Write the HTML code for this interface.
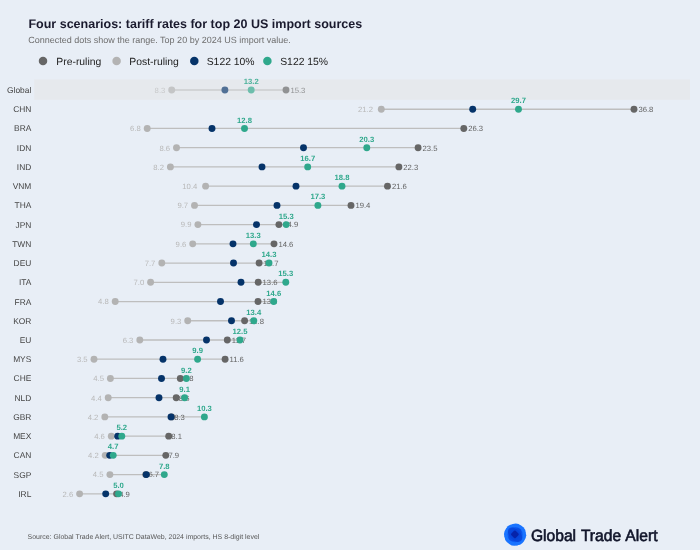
<!DOCTYPE html>
<html><head><meta charset="utf-8"><title>Four scenarios</title>
<style>
html,body{margin:0;padding:0;background:#e8eef6;}
body{width:700px;height:550px;overflow:hidden;}
svg{display:block;text-rendering:geometricPrecision;will-change:transform;font-family:"Liberation Sans",Arial,Helvetica,sans-serif;}
.t{font-weight:bold;font-size:12.52px;fill:#1a1a2e;}
.s{font-size:9px;fill:#6e6e6e;}
.lg{font-size:10.38px;fill:#222;}
.rl{font-size:8.4px;fill:#444;text-anchor:end;}
.vp{font-size:7.7px;fill:#626262;}
.vq{font-size:7.7px;fill:#b8b8b8;text-anchor:end;}
.vs{font-size:7.7px;font-weight:bold;fill:#2fa88c;text-anchor:middle;}
.src{font-size:6.96px;fill:#555;}
.gta{font-size:16.3px;word-spacing:0.8px;fill:#11152a;stroke:#11152a;stroke-width:0.62px;}
</style></head><body>
<svg width="700" height="550" viewBox="0 0 700 550">
<rect width="700" height="550" fill="#e8eef6"/>
<text class="t" x="28.4" y="28.0">Four scenarios: tariff rates for top 20 US import sources</text>
<text class="s" x="28.2" y="42.5">Connected dots show the range. Top 20 by 2024 US import value.</text>

<circle cx="43.0" cy="60.9" r="4.25" fill="#666666"/><text class="lg" x="56.3" y="64.6">Pre-ruling</text>
<circle cx="116.6" cy="60.9" r="4.25" fill="#b3b3b3"/><text class="lg" x="129.3" y="64.6">Post-ruling</text>
<circle cx="194.3" cy="60.9" r="4.25" fill="#053369"/><text class="lg" x="206.7" y="64.6">S122 10%</text>
<circle cx="267.4" cy="60.9" r="4.25" fill="#2fa88c"/><text class="lg" x="280.2" y="64.6">S122 15%</text>
<rect x="34.2" y="79.4" width="655.8" height="20.4" fill="#e6e9ed"/>
<text class="rl" x="31.3" y="93.00">Global</text>
<g opacity="0.66">
<line x1="171.70" x2="286.00" y1="90.00" y2="90.00" stroke="#bebebe" stroke-width="1.3"/>
<circle cx="286.00" cy="90.00" r="3.45" fill="#666666"/>
<circle cx="171.70" cy="90.00" r="3.45" fill="#b3b3b3"/>
<text class="vp" x="290.40" y="92.85">15.3</text>
<text class="vq" x="165.30" y="92.85">8.3</text>
<circle cx="224.90" cy="90.00" r="3.45" fill="#053369"/>
<circle cx="251.20" cy="90.00" r="3.45" fill="#2fa88c"/>
</g>
<text class="vs" x="251.20" y="84.10" opacity="0.85">13.2</text>
<text class="rl" x="31.3" y="112.23">CHN</text>
<g>
<line x1="381.30" x2="634.00" y1="109.23" y2="109.23" stroke="#bebebe" stroke-width="1.3"/>
<circle cx="634.00" cy="109.23" r="3.45" fill="#666666"/>
<circle cx="381.30" cy="109.23" r="3.45" fill="#b3b3b3"/>
<text class="vp" x="638.40" y="112.08">36.8</text>
<text class="vq" x="373.00" y="112.08">21.2</text>
<circle cx="472.70" cy="109.23" r="3.45" fill="#053369"/>
<circle cx="518.50" cy="109.23" r="3.45" fill="#2fa88c"/>
</g>
<text class="vs" x="518.50" y="103.33">29.7</text>
<text class="rl" x="31.3" y="131.46">BRA</text>
<g>
<line x1="147.20" x2="463.80" y1="128.46" y2="128.46" stroke="#bebebe" stroke-width="1.3"/>
<circle cx="463.80" cy="128.46" r="3.45" fill="#666666"/>
<circle cx="147.20" cy="128.46" r="3.45" fill="#b3b3b3"/>
<text class="vp" x="468.20" y="131.31">26.3</text>
<text class="vq" x="140.80" y="131.31">6.8</text>
<circle cx="212.00" cy="128.46" r="3.45" fill="#053369"/>
<circle cx="244.50" cy="128.46" r="3.45" fill="#2fa88c"/>
</g>
<text class="vs" x="244.50" y="122.56">12.8</text>
<text class="rl" x="31.3" y="150.69">IDN</text>
<g>
<line x1="176.50" x2="418.10" y1="147.69" y2="147.69" stroke="#bebebe" stroke-width="1.3"/>
<circle cx="418.10" cy="147.69" r="3.45" fill="#666666"/>
<circle cx="176.50" cy="147.69" r="3.45" fill="#b3b3b3"/>
<text class="vp" x="422.50" y="150.54">23.5</text>
<text class="vq" x="170.10" y="150.54">8.6</text>
<circle cx="303.50" cy="147.69" r="3.45" fill="#053369"/>
<circle cx="366.80" cy="147.69" r="3.45" fill="#2fa88c"/>
</g>
<text class="vs" x="366.80" y="141.79">20.3</text>
<text class="rl" x="31.3" y="169.92">IND</text>
<g>
<line x1="170.40" x2="398.90" y1="166.92" y2="166.92" stroke="#bebebe" stroke-width="1.3"/>
<circle cx="398.90" cy="166.92" r="3.45" fill="#666666"/>
<circle cx="170.40" cy="166.92" r="3.45" fill="#b3b3b3"/>
<text class="vp" x="403.30" y="169.77">22.3</text>
<text class="vq" x="164.00" y="169.77">8.2</text>
<circle cx="262.00" cy="166.92" r="3.45" fill="#053369"/>
<circle cx="307.70" cy="166.92" r="3.45" fill="#2fa88c"/>
</g>
<text class="vs" x="307.70" y="161.02">16.7</text>
<text class="rl" x="31.3" y="189.15">VNM</text>
<g>
<line x1="205.60" x2="387.50" y1="186.15" y2="186.15" stroke="#bebebe" stroke-width="1.3"/>
<circle cx="387.50" cy="186.15" r="3.45" fill="#666666"/>
<circle cx="205.60" cy="186.15" r="3.45" fill="#b3b3b3"/>
<text class="vp" x="391.90" y="189.00">21.6</text>
<text class="vq" x="197.30" y="189.00">10.4</text>
<circle cx="296.00" cy="186.15" r="3.45" fill="#053369"/>
<circle cx="342.00" cy="186.15" r="3.45" fill="#2fa88c"/>
</g>
<text class="vs" x="342.00" y="180.25">18.8</text>
<text class="rl" x="31.3" y="208.38">THA</text>
<g>
<line x1="194.50" x2="351.00" y1="205.38" y2="205.38" stroke="#bebebe" stroke-width="1.3"/>
<circle cx="351.00" cy="205.38" r="3.45" fill="#666666"/>
<circle cx="194.50" cy="205.38" r="3.45" fill="#b3b3b3"/>
<text class="vp" x="355.40" y="208.23">19.4</text>
<text class="vq" x="188.10" y="208.23">9.7</text>
<circle cx="277.00" cy="205.38" r="3.45" fill="#053369"/>
<circle cx="317.90" cy="205.38" r="3.45" fill="#2fa88c"/>
</g>
<text class="vs" x="317.90" y="199.48">17.3</text>
<text class="rl" x="31.3" y="227.61">JPN</text>
<g>
<line x1="197.90" x2="286.20" y1="224.61" y2="224.61" stroke="#bebebe" stroke-width="1.3"/>
<circle cx="278.90" cy="224.61" r="3.45" fill="#666666"/>
<circle cx="197.90" cy="224.61" r="3.45" fill="#b3b3b3"/>
<text class="vp" x="283.30" y="227.46">14.9</text>
<text class="vq" x="191.50" y="227.46">9.9</text>
<circle cx="256.50" cy="224.61" r="3.45" fill="#053369"/>
<circle cx="286.20" cy="224.61" r="3.45" fill="#2fa88c"/>
</g>
<text class="vs" x="286.20" y="218.71">15.3</text>
<text class="rl" x="31.3" y="246.84">TWN</text>
<g>
<line x1="192.70" x2="274.00" y1="243.84" y2="243.84" stroke="#bebebe" stroke-width="1.3"/>
<circle cx="274.00" cy="243.84" r="3.45" fill="#666666"/>
<circle cx="192.70" cy="243.84" r="3.45" fill="#b3b3b3"/>
<text class="vp" x="278.40" y="246.69">14.6</text>
<text class="vq" x="186.30" y="246.69">9.6</text>
<circle cx="233.00" cy="243.84" r="3.45" fill="#053369"/>
<circle cx="253.30" cy="243.84" r="3.45" fill="#2fa88c"/>
</g>
<text class="vs" x="253.30" y="237.94">13.3</text>
<text class="rl" x="31.3" y="266.07">DEU</text>
<g>
<line x1="161.80" x2="269.00" y1="263.07" y2="263.07" stroke="#bebebe" stroke-width="1.3"/>
<circle cx="259.10" cy="263.07" r="3.45" fill="#666666"/>
<circle cx="161.80" cy="263.07" r="3.45" fill="#b3b3b3"/>
<text class="vp" x="263.50" y="265.92">13.7</text>
<text class="vq" x="155.40" y="265.92">7.7</text>
<circle cx="233.50" cy="263.07" r="3.45" fill="#053369"/>
<circle cx="269.00" cy="263.07" r="3.45" fill="#2fa88c"/>
</g>
<text class="vs" x="269.00" y="257.17">14.3</text>
<text class="rl" x="31.3" y="285.30">ITA</text>
<g>
<line x1="150.60" x2="285.80" y1="282.30" y2="282.30" stroke="#bebebe" stroke-width="1.3"/>
<circle cx="258.20" cy="282.30" r="3.45" fill="#666666"/>
<circle cx="150.60" cy="282.30" r="3.45" fill="#b3b3b3"/>
<text class="vp" x="262.60" y="285.15">13.6</text>
<text class="vq" x="144.20" y="285.15">7.0</text>
<circle cx="241.00" cy="282.30" r="3.45" fill="#053369"/>
<circle cx="285.80" cy="282.30" r="3.45" fill="#2fa88c"/>
</g>
<text class="vs" x="285.80" y="276.40">15.3</text>
<text class="rl" x="31.3" y="304.53">FRA</text>
<g>
<line x1="115.20" x2="273.70" y1="301.53" y2="301.53" stroke="#bebebe" stroke-width="1.3"/>
<circle cx="258.00" cy="301.53" r="3.45" fill="#666666"/>
<circle cx="115.20" cy="301.53" r="3.45" fill="#b3b3b3"/>
<text class="vp" x="262.40" y="304.38">13.6</text>
<text class="vq" x="108.80" y="304.38">4.8</text>
<circle cx="220.50" cy="301.53" r="3.45" fill="#053369"/>
<circle cx="273.70" cy="301.53" r="3.45" fill="#2fa88c"/>
</g>
<text class="vs" x="273.70" y="295.63">14.6</text>
<text class="rl" x="31.3" y="323.76">KOR</text>
<g>
<line x1="187.70" x2="253.80" y1="320.76" y2="320.76" stroke="#bebebe" stroke-width="1.3"/>
<circle cx="244.60" cy="320.76" r="3.45" fill="#666666"/>
<circle cx="187.70" cy="320.76" r="3.45" fill="#b3b3b3"/>
<text class="vp" x="249.00" y="323.61">12.8</text>
<text class="vq" x="181.30" y="323.61">9.3</text>
<circle cx="231.50" cy="320.76" r="3.45" fill="#053369"/>
<circle cx="253.80" cy="320.76" r="3.45" fill="#2fa88c"/>
</g>
<text class="vs" x="253.80" y="314.86">13.4</text>
<text class="rl" x="31.3" y="342.99">EU</text>
<g>
<line x1="139.80" x2="240.00" y1="339.99" y2="339.99" stroke="#bebebe" stroke-width="1.3"/>
<circle cx="227.30" cy="339.99" r="3.45" fill="#666666"/>
<circle cx="139.80" cy="339.99" r="3.45" fill="#b3b3b3"/>
<text class="vp" x="231.70" y="342.84">11.7</text>
<text class="vq" x="133.40" y="342.84">6.3</text>
<circle cx="206.50" cy="339.99" r="3.45" fill="#053369"/>
<circle cx="240.00" cy="339.99" r="3.45" fill="#2fa88c"/>
</g>
<text class="vs" x="240.00" y="334.09">12.5</text>
<text class="rl" x="31.3" y="362.22">MYS</text>
<g>
<line x1="94.00" x2="225.10" y1="359.22" y2="359.22" stroke="#bebebe" stroke-width="1.3"/>
<circle cx="225.10" cy="359.22" r="3.45" fill="#666666"/>
<circle cx="94.00" cy="359.22" r="3.45" fill="#b3b3b3"/>
<text class="vp" x="229.50" y="362.07">11.6</text>
<text class="vq" x="87.60" y="362.07">3.5</text>
<circle cx="163.00" cy="359.22" r="3.45" fill="#053369"/>
<circle cx="197.60" cy="359.22" r="3.45" fill="#2fa88c"/>
</g>
<text class="vs" x="197.60" y="353.32">9.9</text>
<text class="rl" x="31.3" y="381.45">CHE</text>
<g>
<line x1="110.40" x2="186.40" y1="378.45" y2="378.45" stroke="#bebebe" stroke-width="1.3"/>
<circle cx="180.30" cy="378.45" r="3.45" fill="#666666"/>
<circle cx="110.40" cy="378.45" r="3.45" fill="#b3b3b3"/>
<text class="vp" x="182.90" y="381.30">8.8</text>
<text class="vq" x="104.00" y="381.30">4.5</text>
<circle cx="161.50" cy="378.45" r="3.45" fill="#053369"/>
<circle cx="186.40" cy="378.45" r="3.45" fill="#2fa88c"/>
</g>
<text class="vs" x="186.40" y="372.55">9.2</text>
<text class="rl" x="31.3" y="400.68">NLD</text>
<g>
<line x1="108.20" x2="184.60" y1="397.68" y2="397.68" stroke="#bebebe" stroke-width="1.3"/>
<circle cx="176.20" cy="397.68" r="3.45" fill="#666666"/>
<circle cx="108.20" cy="397.68" r="3.45" fill="#b3b3b3"/>
<text class="vp" x="178.80" y="400.53">8.6</text>
<text class="vq" x="101.80" y="400.53">4.4</text>
<circle cx="159.00" cy="397.68" r="3.45" fill="#053369"/>
<circle cx="184.60" cy="397.68" r="3.45" fill="#2fa88c"/>
</g>
<text class="vs" x="184.60" y="391.78">9.1</text>
<text class="rl" x="31.3" y="419.91">GBR</text>
<g>
<line x1="104.80" x2="204.40" y1="416.91" y2="416.91" stroke="#bebebe" stroke-width="1.3"/>
<circle cx="171.60" cy="416.91" r="3.45" fill="#666666"/>
<circle cx="104.80" cy="416.91" r="3.45" fill="#b3b3b3"/>
<text class="vp" x="174.20" y="419.76">8.3</text>
<text class="vq" x="98.40" y="419.76">4.2</text>
<circle cx="171.00" cy="416.91" r="3.45" fill="#053369"/>
<circle cx="204.40" cy="416.91" r="3.45" fill="#2fa88c"/>
</g>
<text class="vs" x="204.40" y="411.01">10.3</text>
<text class="rl" x="31.3" y="439.14">MEX</text>
<g>
<line x1="111.30" x2="168.70" y1="436.14" y2="436.14" stroke="#bebebe" stroke-width="1.3"/>
<circle cx="168.70" cy="436.14" r="3.45" fill="#666666"/>
<circle cx="111.30" cy="436.14" r="3.45" fill="#b3b3b3"/>
<text class="vp" x="171.30" y="438.99">8.1</text>
<text class="vq" x="104.90" y="438.99">4.6</text>
<circle cx="117.70" cy="436.14" r="3.45" fill="#053369"/>
<circle cx="121.80" cy="436.14" r="3.45" fill="#2fa88c"/>
</g>
<text class="vs" x="121.80" y="430.24">5.2</text>
<text class="rl" x="31.3" y="458.37">CAN</text>
<g>
<line x1="105.20" x2="165.80" y1="455.37" y2="455.37" stroke="#bebebe" stroke-width="1.3"/>
<circle cx="165.80" cy="455.37" r="3.45" fill="#666666"/>
<circle cx="105.20" cy="455.37" r="3.45" fill="#b3b3b3"/>
<text class="vp" x="168.40" y="458.22">7.9</text>
<text class="vq" x="98.80" y="458.22">4.2</text>
<circle cx="109.70" cy="455.37" r="3.45" fill="#053369"/>
<circle cx="113.20" cy="455.37" r="3.45" fill="#2fa88c"/>
</g>
<text class="vs" x="113.20" y="449.47">4.7</text>
<text class="rl" x="31.3" y="477.60">SGP</text>
<g>
<line x1="109.90" x2="164.30" y1="474.60" y2="474.60" stroke="#bebebe" stroke-width="1.3"/>
<circle cx="145.80" cy="474.60" r="3.45" fill="#666666"/>
<circle cx="109.90" cy="474.60" r="3.45" fill="#b3b3b3"/>
<text class="vp" x="148.40" y="477.45">6.7</text>
<text class="vq" x="103.50" y="477.45">4.5</text>
<circle cx="146.30" cy="474.60" r="3.45" fill="#053369"/>
<circle cx="164.30" cy="474.60" r="3.45" fill="#2fa88c"/>
</g>
<text class="vs" x="164.30" y="468.70">7.8</text>
<text class="rl" x="31.3" y="496.83">IRL</text>
<g>
<line x1="79.60" x2="118.50" y1="493.83" y2="493.83" stroke="#bebebe" stroke-width="1.3"/>
<circle cx="116.60" cy="493.83" r="3.45" fill="#666666"/>
<circle cx="79.60" cy="493.83" r="3.45" fill="#b3b3b3"/>
<text class="vp" x="119.20" y="496.68">4.9</text>
<text class="vq" x="73.20" y="496.68">2.6</text>
<circle cx="105.70" cy="493.83" r="3.45" fill="#053369"/>
<circle cx="118.50" cy="493.83" r="3.45" fill="#2fa88c"/>
</g>
<text class="vs" x="118.50" y="487.93">5.0</text>
<text class="src" x="27.6" y="538.6">Source: Global Trade Alert, USITC DataWeb, 2024 imports, HS 8-digit level</text>
<g transform="translate(515.1,534.7)">
<circle cx="3.64" cy="0.64" r="7.5" fill="#1a74ff"/>
<circle cx="2.12" cy="3.03" r="7.5" fill="#1a74ff"/>
<circle cx="-0.64" cy="3.64" r="7.5" fill="#1a74ff"/>
<circle cx="-3.03" cy="2.12" r="7.5" fill="#1a74ff"/>
<circle cx="-3.64" cy="-0.64" r="7.5" fill="#1a74ff"/>
<circle cx="-2.12" cy="-3.03" r="7.5" fill="#1a74ff"/>
<circle cx="0.64" cy="-3.64" r="7.5" fill="#1a74ff"/>
<circle cx="3.03" cy="-2.12" r="7.5" fill="#1a74ff"/>
<circle r="7.6" fill="#0b56ee" opacity="0.85"/>
<ellipse rx="8.6" ry="5.4" fill="#0844d8" opacity="0.8" transform="rotate(45)"/>
<ellipse rx="7.6" ry="4.8" fill="#0844d8" opacity="0.55" transform="rotate(-45)"/>
<rect x="-3.1" y="-3.1" width="6.2" height="6.2" rx="1.2" fill="#0622a8" opacity="0.95" transform="translate(-0.2,-0.3) rotate(45)"/>
</g>
<text class="gta" x="530.9" y="541" textLength="126.6" lengthAdjust="spacingAndGlyphs">Global Trade Alert</text>
</svg></body></html>
